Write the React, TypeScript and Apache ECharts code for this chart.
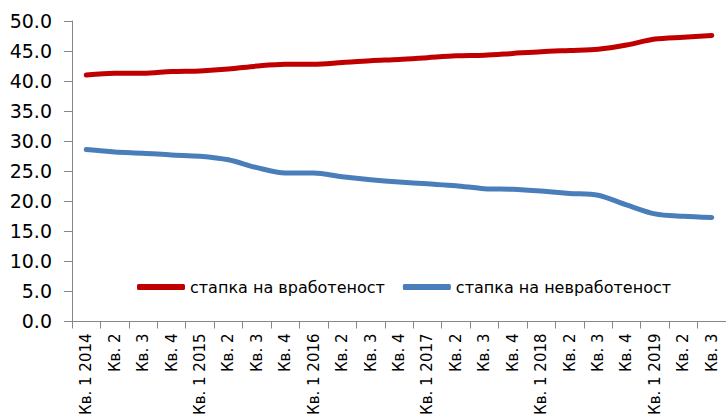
import React, { useEffect, useRef } from "react";
import * as echarts from "echarts";

// Quarterly labels, Q1 2014 – Q3 2019
const quarters: string[] = [
  "Кв. 1 2014", "Кв. 2", "Кв. 3", "Кв. 4",
  "Кв. 1 2015", "Кв. 2", "Кв. 3", "Кв. 4",
  "Кв. 1 2016", "Кв. 2", "Кв. 3", "Кв. 4",
  "Кв. 1 2017", "Кв. 2", "Кв. 3", "Кв. 4",
  "Кв. 1 2018", "Кв. 2", "Кв. 3", "Кв. 4",
  "Кв. 1 2019", "Кв. 2", "Кв. 3",
];

// Employment rate, %
const employmentRate: number[] = [
  41.0, 41.3, 41.3, 41.6, 41.7, 42.0, 42.5, 42.8, 42.8, 43.1, 43.4, 43.6,
  43.9, 44.2, 44.3, 44.6, 44.9, 45.1, 45.3, 46.0, 47.0, 47.3, 47.6,
];

// Unemployment rate, %
const unemploymentRate: number[] = [
  28.6, 28.2, 28.0, 27.7, 27.5, 26.9, 25.6, 24.7, 24.7, 24.1, 23.6, 23.2,
  22.9, 22.6, 22.1, 22.0, 21.7, 21.3, 21.0, 19.4, 17.9, 17.5, 17.3,
];

const seriesNames: string[] = ["стапка на вработеност", "стапка на невработеност"];
const seriesColors: string[] = ["#C00000", "#4A7EBB"];

const FONT = "DejaVu Sans";
const AXIS_GREY = "#868686";

export default function App() {
  const ref = useRef<HTMLDivElement>(null);

  useEffect(() => {
    if (!ref.current) return;
    const chart = echarts.init(ref.current, undefined, { renderer: "svg" });
    chart.setOption({
      animation: false,
      backgroundColor: "#ffffff",
      grid: { left: 72, right: -5, top: 21, bottom: 96, containLabel: false },
      legend: {
        left: 137,
        top: 279,
        icon: "roundRect",
        itemWidth: 48,
        itemHeight: 6,
        itemGap: 18,
        padding: 0,
        textStyle: { fontFamily: FONT, fontSize: 16, color: "#000" },
        data: seriesNames,
      },
      xAxis: {
        type: "category",
        data: quarters,
        boundaryGap: true,
        axisLine: { lineStyle: { color: AXIS_GREY, width: 1 } },
        axisTick: { show: true, length: 7, lineStyle: { color: AXIS_GREY } },
        axisLabel: {
          rotate: 90,
          interval: 0,
          margin: 12,
          fontFamily: FONT,
          fontSize: 15,
          color: "#000",
        },
      },
      yAxis: {
        type: "value",
        min: 0,
        max: 50,
        interval: 5,
        splitLine: { show: false },
        axisLine: { show: true, lineStyle: { color: AXIS_GREY, width: 1 } },
        axisTick: { show: true, length: 8, lineStyle: { color: AXIS_GREY } },
        axisLabel: {
          margin: 20,
          fontFamily: FONT,
          fontSize: 19,
          color: "#000",
          formatter: (v: number) => v.toFixed(1),
        },
      },
      series: [
        {
          name: seriesNames[0],
          type: "line",
          data: employmentRate,
          smooth: 0.3,
          showSymbol: false,
          symbol: "none",
          color: seriesColors[0],
          lineStyle: { width: 5, color: seriesColors[0], cap: "round", join: "round" },
        },
        {
          name: seriesNames[1],
          type: "line",
          data: unemploymentRate,
          smooth: 0.3,
          showSymbol: false,
          symbol: "none",
          color: seriesColors[1],
          lineStyle: { width: 5, color: seriesColors[1], cap: "round", join: "round" },
        },
      ],
    });
    return () => chart.dispose();
  }, []);

  return (
    <div
      ref={ref}
      style={{ position: "fixed", left: 0, top: 0, width: 726, height: 418 }}
    />
  );
}
